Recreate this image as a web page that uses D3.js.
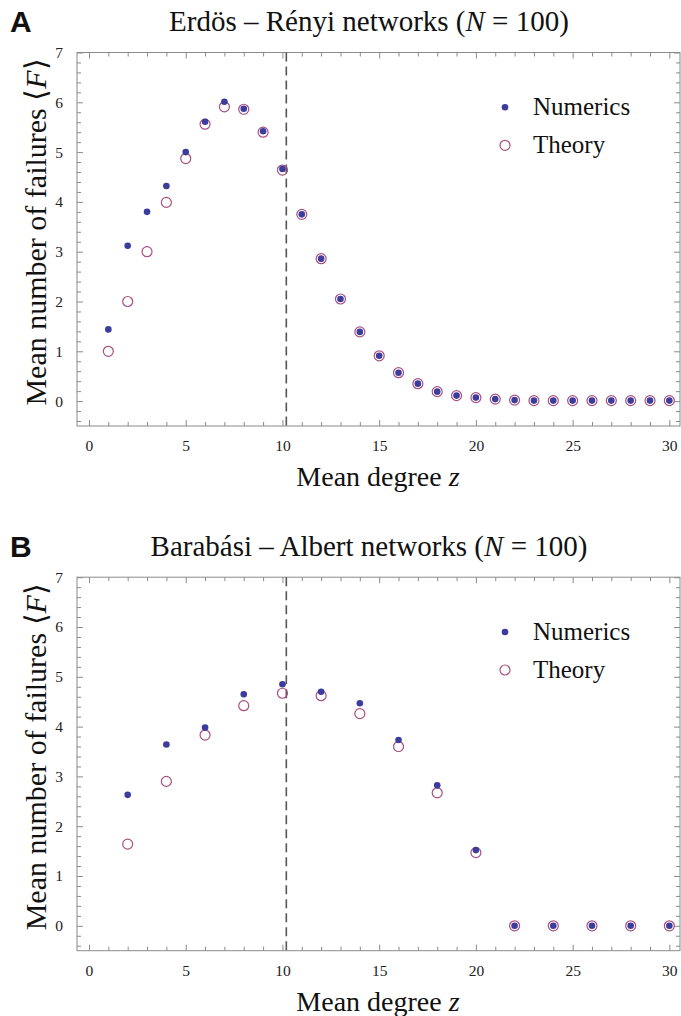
<!DOCTYPE html>
<html><head><meta charset="utf-8">
<script src="https://cdn.jsdelivr.net/npm/d3@7"></script>
<style>body{margin:0;background:#fff}svg{display:block}text{font-family:"Liberation Serif","Times New Roman",serif}</style>
</head><body><svg id="c" width="681" height="1016"></svg>
<script>
// Panel A: Erdős–Rényi
const erZ = [1,2,3,4,5,6,7,8,9,10,11,12,13,14,15,16,17,18,19,20,21,22,23,24,25,26,27,28,29,30];
const erNumerics = [1.44,3.12,3.80,4.32,5.00,5.61,6.01,5.87,5.42,4.66,3.75,2.86,2.05,1.39,0.91,0.57,0.35,0.19,0.11,0.07,0.04,0.02,0.01,0.01,0.01,0.01,0.01,0.01,0.01,0.01];
const erTheory   = [1.00,2.00,3.00,3.99,4.87,5.56,5.91,5.86,5.40,4.64,3.75,2.86,2.05,1.39,0.91,0.57,0.35,0.19,0.11,0.07,0.04,0.02,0.01,0.01,0.01,0.01,0.01,0.01,0.01,0.01];
// Panel B: Barabási–Albert
const baZ = [2,4,6,8,10,12,14,16,18,20,22,24,26,28,30];
const baNumerics = [2.63,3.64,3.98,4.65,4.85,4.70,4.47,3.73,2.82,1.52,0,0,0,0,0];
const baTheory   = [1.64,2.90,3.83,4.42,4.67,4.62,4.26,3.60,2.67,1.47,0,0,0,0,0];
const xMajor = [0,5,10,15,20,25,30];
const yMajor = [0,1,2,3,4,5,6,7];
const criticalZ = 10.2;
const titles = ["A","B"];

const svg = d3.select("#c");
const navy = "#3c3c9c", pink = "#a8507f", frameCol = "#8a8a8a";

function panel(off, letter, titleParts, zs, num, th) {
  const x = d3.scaleLinear().domain([-0.62, 30.55]).range([77, 680]);
  const y = d3.scaleLinear().domain([-0.5, 7]).range([426 + off, 52.5 + off]);
  const g = svg.append("g");
  g.append("rect").attr("x", x.range()[0]).attr("y", y.range()[1])
    .attr("width", x.range()[1] - x.range()[0]).attr("height", y.range()[0] - y.range()[1])
    .attr("fill", "none").attr("stroke", frameCol).attr("stroke-width", 1);
  const xMinor = d3.range(0, 31, 1).filter(v => v % 5 !== 0);
  const yMinor = d3.range(-0.4, 7.01, 0.2).map(v => +v.toFixed(1)).filter(v => Math.abs(v - Math.round(v)) > 1e-6);
  function styleAxis(sel){ sel.select(".domain").remove(); sel.selectAll("line").attr("stroke", frameCol); }
  const lab = s => s.selectAll("text").attr("font-size", 15.5).attr("fill", "#222").style("font-family", "'Liberation Serif', serif");
  g.append("g").attr("transform", `translate(0,${y.range()[0]})`)
    .call(d3.axisBottom(x).tickValues(xMajor).tickSize(-6).tickPadding(14).tickFormat(d3.format("d")))
    .call(styleAxis).call(lab);
  g.append("g").attr("transform", `translate(0,${y.range()[0]})`)
    .call(d3.axisBottom(x).tickValues(xMinor).tickSize(-4).tickFormat("")).call(styleAxis);
  g.append("g").attr("transform", `translate(0,${y.range()[1]})`)
    .call(d3.axisTop(x).tickValues(xMajor).tickSize(-6).tickFormat("")).call(styleAxis);
  g.append("g").attr("transform", `translate(0,${y.range()[1]})`)
    .call(d3.axisTop(x).tickValues(xMinor).tickSize(-4).tickFormat("")).call(styleAxis);
  g.append("g").attr("transform", `translate(${x.range()[0]},0)`)
    .call(d3.axisLeft(y).tickValues(yMajor).tickSize(-6).tickPadding(14).tickFormat(d3.format("d")))
    .call(styleAxis).call(lab);
  g.append("g").attr("transform", `translate(${x.range()[0]},0)`)
    .call(d3.axisLeft(y).tickValues(yMinor).tickSize(-4).tickFormat("")).call(styleAxis);
  g.append("g").attr("transform", `translate(${x.range()[1]},0)`)
    .call(d3.axisRight(y).tickValues(yMajor).tickSize(-6).tickFormat("")).call(styleAxis);
  g.append("g").attr("transform", `translate(${x.range()[1]},0)`)
    .call(d3.axisRight(y).tickValues(yMinor).tickSize(-4).tickFormat("")).call(styleAxis);
  g.append("line").attr("x1", x(criticalZ)).attr("x2", x(criticalZ))
    .attr("y1", y.range()[1]).attr("y2", y.range()[0])
    .attr("stroke", "#555").attr("stroke-width", 1.6).attr("stroke-dasharray", "9,5");
  g.append("g").selectAll("circle").data(zs.map((z, i) => [z, th[i]])).join("circle")
    .attr("cx", d => x(d[0])).attr("cy", d => y(d[1])).attr("r", 5)
    .attr("fill", "none").attr("stroke", pink).attr("stroke-width", 1.2);
  g.append("g").selectAll("circle").data(zs.map((z, i) => [z, num[i]])).join("circle")
    .attr("cx", d => x(d[0])).attr("cy", d => y(d[1])).attr("r", 3.3)
    .attr("fill", navy);
  // legend
  const ly = y(6.0) + 5;
  g.append("circle").attr("cx", 505).attr("cy", ly).attr("r", 3.3).attr("fill", navy);
  g.append("text").attr("x", 533).attr("y", ly + 8).attr("font-size", 25).attr("fill", "#111").text("Numerics");
  g.append("circle").attr("cx", 505).attr("cy", ly + 38).attr("r", 5).attr("fill", "none").attr("stroke", pink).attr("stroke-width", 1.2);
  g.append("text").attr("x", 533).attr("y", ly + 46).attr("font-size", 25).attr("fill", "#111").text("Theory");
  // titles
  g.append("text").attr("x", 10).attr("y", 32 + off).attr("font-size", 30).attr("font-weight", "bold")
    .style("font-family", "'Liberation Sans', Arial, sans-serif").attr("fill", "#111").text(letter);
  const t = g.append("text").attr("x", 369).attr("y", 31 + off).attr("text-anchor", "middle").attr("font-size", 29).attr("fill", "#111");
  t.append("tspan").text(titleParts[0] + " (");
  t.append("tspan").attr("font-style", "italic").text("N");
  t.append("tspan").text(" = 100)");
  const xl = g.append("text").attr("x", 378).attr("y", 486 + off).attr("text-anchor", "middle").attr("font-size", 28).attr("fill", "#111");
  xl.append("tspan").text("Mean degree ");
  xl.append("tspan").attr("font-style", "italic").text("z");
  const yl = g.append("text").attr("transform", `translate(46,${232 + off}) rotate(-90)`).attr("text-anchor", "middle").attr("font-size", 30).attr("fill", "#111");
  yl.append("tspan").text("Mean number of failures \u27E8");
  yl.append("tspan").attr("font-style", "italic").text("F");
  yl.append("tspan").text("\u27E9");
}
panel(0, titles[0], ["Erd\u00f6s \u2013 R\u00e9nyi networks"], erZ, erNumerics, erTheory);
panel(524.7, titles[1], ["Barab\u00e1si \u2013 Albert networks"], baZ, baNumerics, baTheory);
</script></body></html>
